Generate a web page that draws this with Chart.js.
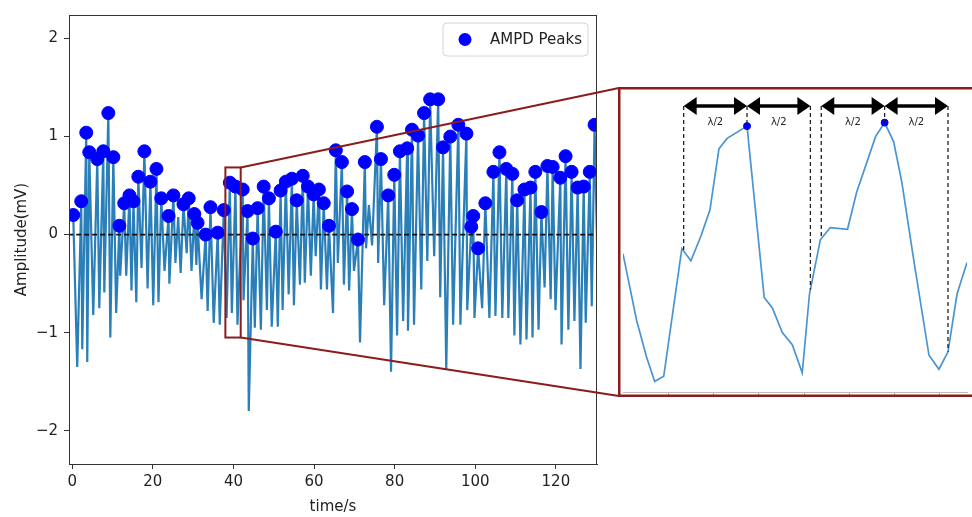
<!DOCTYPE html>
<html>
<head>
<meta charset="utf-8">
<script src="https://cdn.jsdelivr.net/npm/chart.js@4.4.1/dist/chart.umd.min.js"></script>
<style>
html, body { margin: 0; padding: 0; background: #fff; }
#wrap { position: relative; width: 972px; height: 517px; overflow: hidden; }
#mainChart { position: absolute; left: 0; top: 0; }
#zoomChart { position: absolute; left: 618px; top: 87px; }
</style>
</head>
<body>
<div id="wrap">
  <canvas id="mainChart" width="972" height="517"></canvas>
  <canvas id="zoomChart" width="354" height="310"></canvas>
</div>
<script>
// peaks found by AMPD (time in s, amplitude in mV)
const peakTime = [0.25,2.24,3.48,4.23,6.22,7.71,8.96,10.2,11.7,12.9,
  14.2,15.2,16.4,17.9,19.4,20.9,22.1,23.9,25.1,27.6,
  28.9,30.3,31.1,33.1,34.3,36.1,37.6,39.1,40.5,42.3,
  43.5,44.8,46.0,47.5,48.8,50.5,51.7,53.0,54.5,55.7,
  57.2,58.5,59.9,61.2,62.4,63.7,65.4,66.9,68.2,69.4,
  70.9,72.6,75.6,76.6,78.4,79.9,81.3,83.1,84.3,85.8,
  87.3,88.8,90.8,92.0,93.8,95.8,97.8,99.0,99.5,100.7,
  102.5,104.5,106.0,107.7,109.2,110.4,112.2,113.7,114.9,116.4,
  117.9,119.2,121.1,122.4,123.9,125.4,126.9,128.4,129.6];
const peakAmp = [0.20,0.34,1.04,0.84,0.77,0.85,1.24,0.79,0.09,0.32,
  0.40,0.34,0.59,0.85,0.54,0.67,0.37,0.19,0.40,0.31,
  0.37,0.21,0.12,0.00,0.28,0.02,0.25,0.53,0.49,0.46,
  0.24,-0.04,0.27,0.49,0.37,0.03,0.45,0.54,0.57,0.35,
  0.60,0.49,0.41,0.46,0.32,0.09,0.86,0.74,0.44,0.26,
  -0.05,0.74,1.10,0.77,0.40,0.61,0.85,0.88,1.07,1.01,
  1.24,1.38,1.38,0.89,1.00,1.12,1.03,0.08,0.19,-0.14,
  0.32,0.64,0.84,0.67,0.62,0.35,0.46,0.48,0.64,0.23,
  0.70,0.69,0.58,0.80,0.64,0.48,0.49,0.64,1.12];

// troughs of the signal
const troughTime = [1.24,2.49,3.73,5.22,6.72,7.96,9.45,10.9,11.9,13.4,
  14.7,15.9,17.2,18.7,20.1,21.4,22.9,24.1,25.6,26.9,
  28.4,29.6,30.8,32.1,33.6,35.1,36.6,38.3,39.6,41.0,
  42.5,43.8,45.3,46.8,48.3,49.5,51.0,52.2,53.7,55.0,
  56.5,57.7,59.2,60.4,61.7,63.2,64.7,65.9,67.4,68.7,
  69.9,71.4,72.9,74.4,75.9,77.4,79.1,80.6,82.1,83.3,
  84.8,86.6,88.1,89.8,91.3,92.8,94.5,96.3,98.0,99.25,
  99.8,101.7,103.5,105.0,106.7,108.2,109.7,111.2,112.7,114.2,
  115.7,117.2,118.7,119.9,121.4,123.1,124.6,126.1,127.4,128.9,
  130.4];
const troughAmp = [-1.35,-1.17,-1.30,-0.82,-0.75,-0.59,-1.05,-0.80,-0.42,-0.42,
  -0.57,-0.69,-0.34,-0.55,-0.72,-0.69,-0.37,-0.50,-0.29,-0.39,
  -0.19,-0.37,-0.31,-0.66,-0.78,-0.90,-0.92,-0.85,-0.80,-0.92,
  -0.67,-1.80,-0.95,-0.97,-0.77,-0.94,-0.94,-0.77,-0.61,-0.72,
  -0.51,-0.49,-0.42,-0.22,-0.56,-0.56,-0.80,-0.29,-0.51,-0.57,
  -0.37,-1.10,-0.14,-0.11,-0.29,-0.72,-1.40,-1.03,-0.88,-0.98,
  -0.92,-0.56,-0.27,-0.22,-0.64,-1.37,-0.92,-0.92,-0.77,-0.10,
  -0.85,-0.75,-0.85,-0.83,-0.85,-0.85,-1.03,-1.12,-1.07,-1.05,
  -0.97,-0.54,-0.66,-0.77,-1.12,-0.97,-0.88,-1.37,-0.90,-0.73,
  -0.45];

// small maxima that AMPD did not mark
const bumpTime = [26.3, 73.6];
const bumpAmp = [0.18, 0.30];

const xTicks = [0, 20, 40, 60, 80, 100, 120];
const yTicks = [-2, -1, 0, 1, 2];

// zoomed window shown on the right
const zoomWin = { t0: 38.0, t1: 41.8, a0: -1.05, a1: 0.685 };
const zoomTime = [38.00,38.15,38.26,38.35,38.45,38.65,38.75,38.86,38.96,39.06,
  39.15,39.37,39.56,39.65,39.76,39.87,39.98,40.06,40.18,40.29,
  40.48,40.58,40.79,40.89,40.99,41.08,41.21,41.38,41.49,41.59,
  41.69,41.80];
const zoomAmp = [-0.24,-0.62,-0.83,-0.97,-0.94,-0.21,-0.28,-0.14,0.01,0.36,
  0.42,0.49,-0.49,-0.55,-0.69,-0.76,-0.92,-0.47,-0.16,-0.09,
  -0.10,0.11,0.43,0.51,0.40,0.17,-0.27,-0.82,-0.90,-0.80,
  -0.47,-0.29];
const zoomPeakTime = [39.37, 40.89];
const zoomPeakAmp = [0.49, 0.51];
const zoomTicks = [38.5, 39.0, 39.5, 40.0, 40.5, 41.0, 41.5];
const halfWave = 0.70;

const INSET = { left: 618, top: 87, width: 354, height: 310 };
const RED = '#8b1c1c';

Chart.defaults.font.family = "'DejaVu Sans', sans-serif";
Chart.defaults.color = '#222';

const signal = [];
peakTime.forEach((t, i) => signal.push({ x: t, y: peakAmp[i] }));
troughTime.forEach((t, i) => signal.push({ x: t, y: troughAmp[i] }));
bumpTime.forEach((t, i) => signal.push({ x: t, y: bumpAmp[i] }));
signal.sort((a, b) => a.x - b.x);

const peaks = peakTime.map((t, i) => ({ x: t, y: peakAmp[i] }));

const minusFmt = v => (v < 0 ? '\u2212' + Math.abs(v) : String(v));

const mainDecor = {
  id: 'mainDecor',
  afterDraw(chart) {
    const { ctx, chartArea: ca } = chart;
    const xs = chart.scales.x, ys = chart.scales.y;
    ctx.save();
    // frame
    ctx.strokeStyle = '#333';
    ctx.lineWidth = 1;
    ctx.strokeRect(ca.left + 0.5, ca.top + 0.5, ca.right - ca.left - 1, ca.bottom - ca.top);

    // zoom box and connectors
    const x1 = xs.getPixelForValue(zoomWin.t0), x2 = xs.getPixelForValue(zoomWin.t1);
    const y1 = ys.getPixelForValue(zoomWin.a1), y2 = ys.getPixelForValue(zoomWin.a0);
    ctx.strokeStyle = RED;
    ctx.lineWidth = 2;
    ctx.strokeRect(x1, y1, x2 - x1, y2 - y1);
    ctx.beginPath();
    ctx.moveTo(x2, y1);
    ctx.lineTo(INSET.left + 1, INSET.top + 1);
    ctx.moveTo(x2, y2);
    ctx.lineTo(INSET.left + 1, INSET.top + INSET.height - 1);
    ctx.stroke();

    // legend
    const ds = chart.data.datasets[0];
    const bw = 145, bh = 33;
    const bx = ca.right - bw - 9, by = ca.top + 8;
    ctx.beginPath();
    ctx.roundRect(bx, by, bw, bh, 4);
    ctx.fillStyle = 'rgba(255,255,255,0.85)';
    ctx.fill();
    ctx.strokeStyle = '#d4d4d4';
    ctx.lineWidth = 1;
    ctx.stroke();
    ctx.beginPath();
    ctx.arc(bx + 22, by + bh / 2, 6.5, 0, Math.PI * 2);
    ctx.fillStyle = ds.backgroundColor;
    ctx.fill();
    ctx.fillStyle = '#222';
    ctx.font = "15px 'DejaVu Sans'";
    ctx.textBaseline = 'middle';
    ctx.fillText(ds.label, bx + 47, by + bh / 2 + 1);
    ctx.restore();
  }
};

new Chart(document.getElementById('mainChart'), {
  type: 'line',
  data: {
    datasets: [
      {
        label: 'AMPD Peaks',
        data: peaks,
        showLine: false,
        pointRadius: 6.5,
        pointBackgroundColor: '#0000ff',
        pointBorderColor: '#0000ff',
        backgroundColor: '#0000ff',
        borderColor: '#0000ff',
        order: 0
      },
      {
        label: 'zero',
        data: [{ x: -1, y: 0 }, { x: 131, y: 0 }],
        borderColor: '#111',
        borderWidth: 1.6,
        borderDash: [5, 3],
        pointRadius: 0,
        order: 1
      },
      {
        label: 'signal',
        data: signal,
        borderColor: '#2b7fb8',
        borderWidth: 2.2,
        pointRadius: 0,
        tension: 0,
        order: 2
      }
    ]
  },
  options: {
    responsive: false,
    animation: false,
    events: [],
    layout: { padding: { top: 9, right: 375, bottom: 0, left: 0 } },
    plugins: { legend: { display: false }, tooltip: { enabled: false } },
    scales: {
      x: {
        type: 'linear',
        min: -0.8,
        max: 130.2,
        afterBuildTicks: s => { s.ticks = xTicks.map(v => ({ value: v })); },
        afterFit: s => { s.height = 53; },
        grid: { drawOnChartArea: false, drawTicks: true, tickLength: 5, color: '#333' },
        border: { display: true, color: '#333', width: 1 },
        ticks: { font: { size: 15 }, color: '#222', padding: 4, maxRotation: 0, autoSkip: false, callback: minusFmt },
        title: { display: true, text: 'time/s', font: { size: 15 }, color: '#222', padding: { top: 0, bottom: 1 } }
      },
      y: {
        type: 'linear',
        min: -2.34,
        max: 2.24,
        afterBuildTicks: s => { s.ticks = yTicks.map(v => ({ value: v })); },
        afterFit: s => { s.width = 69; },
        grid: { drawOnChartArea: false, drawTicks: true, tickLength: 5, color: '#333' },
        border: { display: true, color: '#333', width: 1 },
        ticks: { font: { size: 15 }, color: '#222', padding: 6, callback: minusFmt },
        title: { display: true, text: 'Amplitude(mV)', font: { size: 15 }, color: '#222', padding: { top: 13, bottom: 0 } }
      }
    }
  },
  plugins: [mainDecor]
});

// ---- inset ----
function ampAt(t) {
  for (let i = 1; i < zoomTime.length; i++) {
    if (t <= zoomTime[i]) {
      const f = (t - zoomTime[i - 1]) / (zoomTime[i] - zoomTime[i - 1]);
      return zoomAmp[i - 1] + f * (zoomAmp[i] - zoomAmp[i - 1]);
    }
  }
  return zoomAmp[zoomAmp.length - 1];
}

function arrow(ctx, xa, xb, y) {
  const hl = 13, hh = 9;
  ctx.beginPath();
  ctx.moveTo(xa + hl - 1, y);
  ctx.lineTo(xb - hl + 1, y);
  ctx.lineWidth = 3.5;
  ctx.stroke();
  ctx.beginPath();
  ctx.moveTo(xa, y); ctx.lineTo(xa + hl, y - hh); ctx.lineTo(xa + hl, y + hh); ctx.closePath();
  ctx.moveTo(xb, y); ctx.lineTo(xb - hl, y - hh); ctx.lineTo(xb - hl, y + hh); ctx.closePath();
  ctx.fill();
}

const insetDecor = {
  id: 'insetDecor',
  afterDraw(chart) {
    const { ctx, chartArea: ca, width, height } = chart;
    const xs = chart.scales.x, ys = chart.scales.y;
    ctx.save();
    const arrowY = ca.top + 14;
    const labelY = ca.top + 30;
    zoomPeakTime.forEach((p, i) => {
      const xp = xs.getPixelForValue(p);
      const xl = xs.getPixelForValue(p - halfWave);
      const xr = xs.getPixelForValue(p + halfWave);
      ctx.strokeStyle = '#222';
      ctx.lineWidth = 1.3;
      ctx.setLineDash([4, 3]);
      ctx.beginPath();
      ctx.moveTo(xl, arrowY); ctx.lineTo(xl, ys.getPixelForValue(ampAt(p - halfWave)));
      ctx.moveTo(xr, arrowY); ctx.lineTo(xr, ys.getPixelForValue(ampAt(p + halfWave)));
      ctx.moveTo(xp, arrowY); ctx.lineTo(xp, ys.getPixelForValue(zoomPeakAmp[i]));
      ctx.stroke();
      ctx.setLineDash([]);
      ctx.strokeStyle = '#000';
      ctx.fillStyle = '#000';
      arrow(ctx, xl, xp, arrowY);
      arrow(ctx, xp, xr, arrowY);
      ctx.fillStyle = '#222';
      ctx.font = "10px 'DejaVu Sans'";
      ctx.textAlign = 'center';
      ctx.textBaseline = 'middle';
      ctx.fillText('\u03bb/2', (xl + xp) / 2, labelY);
      ctx.fillText('\u03bb/2', (xp + xr) / 2, labelY);
    });
    // red frame of the zoom panel
    ctx.strokeStyle = RED;
    ctx.lineWidth = 2.5;
    ctx.beginPath();
    ctx.moveTo(width + 2, 1.25); ctx.lineTo(1.25, 1.25);
    ctx.lineTo(1.25, height - 1.25); ctx.lineTo(width + 2, height - 1.25);
    ctx.stroke();
    ctx.restore();
  }
};

new Chart(document.getElementById('zoomChart'), {
  type: 'line',
  data: {
    datasets: [
      {
        label: 'peaks',
        data: zoomPeakTime.map((t, i) => ({ x: t, y: zoomPeakAmp[i] })),
        showLine: false,
        pointRadius: 3.5,
        pointBackgroundColor: '#0000ff',
        pointBorderColor: '#0000ff',
        order: 0
      },
      {
        label: 'signal',
        data: zoomTime.map((t, i) => ({ x: t, y: zoomAmp[i] })),
        borderColor: '#4a94d2',
        borderWidth: 1.7,
        pointRadius: 0,
        tension: 0,
        order: 1
      }
    ]
  },
  options: {
    responsive: false,
    animation: false,
    events: [],
    layout: { padding: { top: 0, right: 0, bottom: 0, left: 2 } },
    plugins: { legend: { display: false }, tooltip: { enabled: false } },
    scales: {
      x: {
        type: 'linear',
        min: zoomWin.t0,
        max: zoomWin.t1,
        afterBuildTicks: s => { s.ticks = zoomTicks.map(v => ({ value: v })); },
        afterFit: s => { s.height = 5; },
        grid: { drawOnChartArea: false, drawTicks: true, tickLength: 4, color: '#aaa' },
        border: { display: true, color: '#bbb', width: 1 },
        ticks: { display: false }
      },
      y: {
        display: false,
        min: -1.03,
        max: zoomWin.a1
      }
    }
  },
  plugins: [insetDecor]
});
</script>
</body>
</html>
